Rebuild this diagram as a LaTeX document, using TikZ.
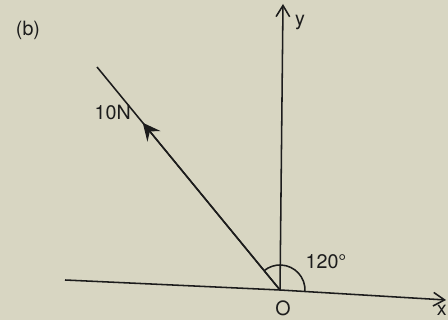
\documentclass[tikz,border=0pt]{standalone}
\usepackage{fontspec}
\setmainfont{TeX Gyre Heros}
\usetikzlibrary{arrows.meta,calc}
\definecolor{PaperBg}{HTML}{D8D6C2}
\definecolor{InkDark}{HTML}{1C1C1C}

\begin{document}
\begin{tikzpicture}[x=0.025cm, y=0.025cm,
    axis/.style={draw=InkDark, line width=1.1pt},
    lbl/.style={font=\fontsize{14}{16}\selectfont, text=InkDark, inner sep=0pt}]
    \fill[PaperBg] (0,0) rectangle (448,320);
    \useasboundingbox (0,0) rectangle (448,320);

    % Axes
    \coordinate (O) at (280,30);
    \coordinate (xl) at (65,40);
    \coordinate (xr) at (446,20);
    \coordinate (yt) at (283,316);
    \draw[axis] (xl) -- (O);
    \draw[axis, -{Straight Barb[length=2.8mm, width=3.4mm]}] (O) -- (xr);
    \draw[axis, -{Straight Barb[length=2.8mm, width=3.4mm]}] (O) -- (yt);

    % Force
    \coordinate (F) at (97,253);
    \draw[axis] (O) -- (F);
    \draw[axis, -{Stealth[length=4.4mm, width=4.2mm, inset=1.6mm]}] (O) -- ($(O)!0.75!(F)$);

    % Angle
    \draw[axis] ($(O)+(-3:25)$) arc[start angle=-3, end angle=129.6, radius=25];

    % Labels
    \node[lbl] (tag) at (28,290) {(b)};
    \node[lbl, anchor=east] (flbl) at (131,208) {10N};
    \node[lbl] (ylbl) at (300,298) {y};
    \node[lbl] (ang) at (326,58) {120°};
    \node[lbl] (olbl) at (283,12) {O};
    \node[lbl, anchor=east] (xlbl) at (447,10) {x};
\end{tikzpicture}
\end{document}
